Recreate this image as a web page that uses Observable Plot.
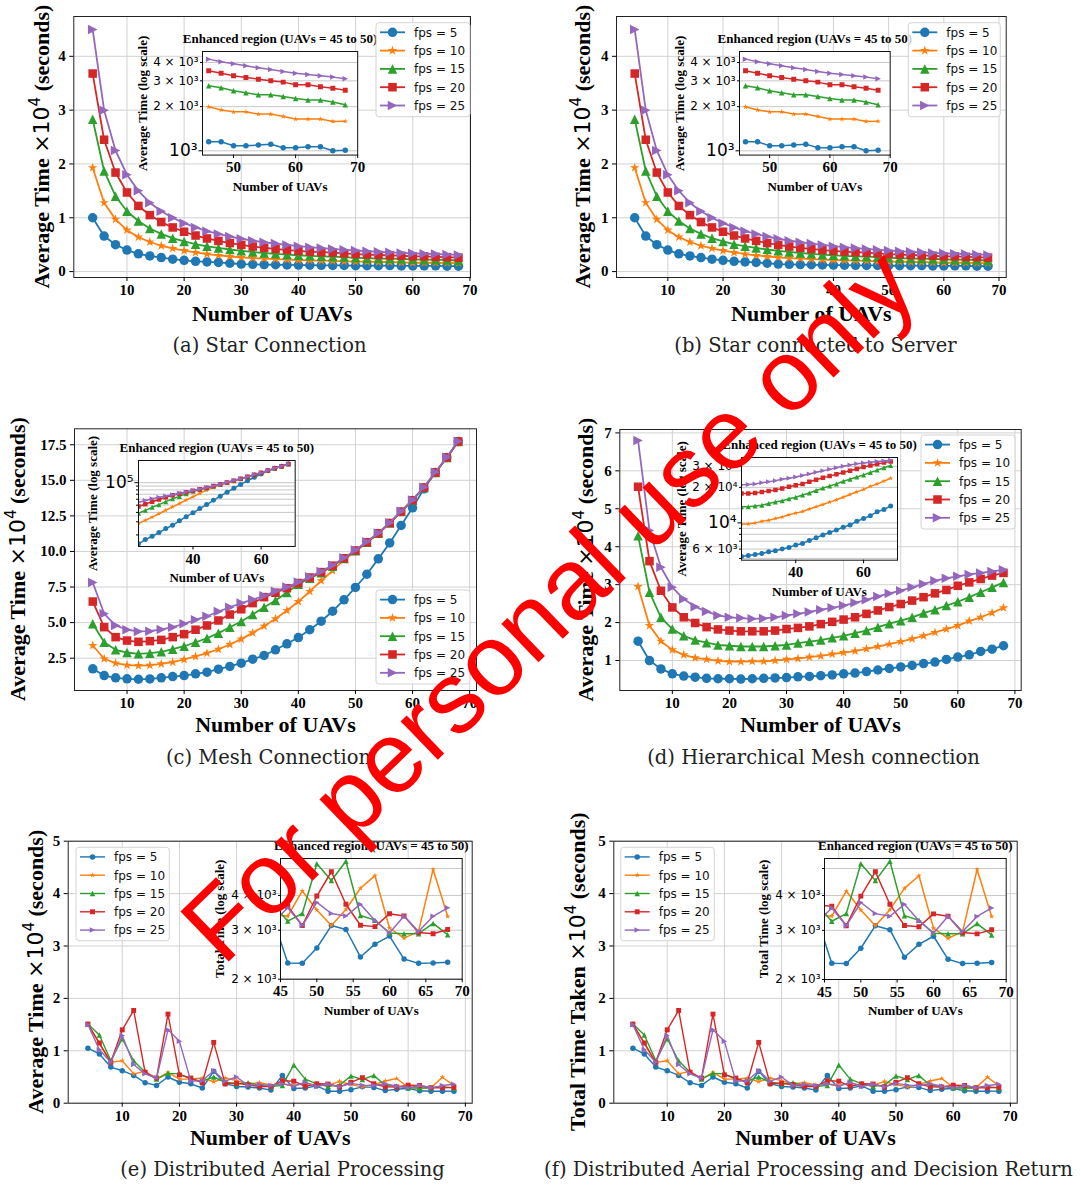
<!DOCTYPE html>
<html><head><meta charset="utf-8">
<script src="https://cdn.jsdelivr.net/npm/d3@7"></script>
<script src="https://cdn.jsdelivr.net/npm/@observablehq/plot@0.6"></script>
<style>
html,body{margin:0;padding:0;background:#fff;}
#page{position:relative;width:1081px;height:1185px;overflow:hidden;background:#fff;}
#page > .layer{position:absolute;}
#page svg{max-width:none;}
#page g[aria-label$="tick label"]{font-family:'Liberation Serif','Times New Roman',serif;font-weight:bold;}
</style></head><body><div id="page"></div>
<script>
// ---------------- data ----------------
const uavs = [4,6,8,10,12,14,16,18,20,22,24,26,28,30,32,34,36,38,40,42,44,46,48,50,52,54,56,58,60,62,64,66,68];
const fpsLabels = ["fps = 5","fps = 10","fps = 15","fps = 20","fps = 25"];
const colors = ["#1f77b4","#ff7f0e","#2ca02c","#d62728","#9467bd"];
const markers = ["circle","star","triangleUp","square","triangleRight"];
const xTicksMain = [10,20,30,40,50,60,70];

// (a),(b) Star connection  (×10^4 s)
const starT5  = [1.0,0.66,0.5,0.4,0.33,0.29,0.26,0.23,0.21,0.19,0.18,0.17,0.155,0.14,0.135,0.13,0.127,0.124,0.121,0.119,0.117,0.1152,0.1152,0.1082,0.1082,0.1095,0.111,0.1048,0.1048,0.1065,0.1065,0.1,0.101];
const starT10 = [1.93,1.28,0.97,0.77,0.64,0.55,0.48,0.43,0.39,0.355,0.325,0.3,0.28,0.265,0.25,0.24,0.23,0.222,0.215,0.208,0.203,0.1995,0.19,0.1844,0.1844,0.178,0.178,0.1715,0.1645,0.1645,0.1645,0.1585,0.159];
const starT15 = [2.83,1.87,1.4,1.12,0.94,0.8,0.7,0.62,0.56,0.51,0.47,0.44,0.41,0.385,0.365,0.345,0.33,0.315,0.303,0.292,0.284,0.2773,0.2687,0.2564,0.2485,0.2408,0.2408,0.2346,0.2273,0.2218,0.2218,0.215,0.2058];
const starT20 = [3.68,2.45,1.84,1.47,1.22,1.05,0.92,0.82,0.74,0.67,0.615,0.57,0.53,0.495,0.465,0.44,0.42,0.4,0.385,0.372,0.36,0.351,0.3384,0.3245,0.3162,0.308,0.3,0.294,0.282,0.282,0.273,0.2673,0.259];
const starT25 = [4.5,3.0,2.25,1.8,1.5,1.28,1.12,1.0,0.9,0.82,0.75,0.7,0.65,0.61,0.575,0.545,0.52,0.495,0.472,0.453,0.437,0.4218,0.4045,0.392,0.3796,0.3678,0.3584,0.3475,0.3384,0.331,0.3245,0.318,0.31];

// (c) Mesh connection
const meshT5  = [1.75,1.28,1.12,1.05,1.02,1.04,1.12,1.21,1.28,1.4,1.52,1.73,1.92,2.15,2.43,2.69,3.09,3.51,3.95,4.5,5.1,5.8,6.6,7.47,8.4,9.48,10.6,11.83,13.07,14.4,15.55,16.6,17.73];
const meshT10 = [3.39,2.46,2.15,2.01,1.98,2.0,2.1,2.22,2.41,2.62,2.85,3.13,3.46,3.84,4.28,4.75,5.27,5.85,6.48,7.19,7.94,8.64,9.42,10.0,10.62,11.25,12.0,12.8,13.6,14.5,15.55,16.6,17.73];
const meshT15 = [4.92,3.62,3.09,2.9,2.81,2.85,2.95,3.13,3.34,3.62,3.9,4.26,4.68,5.08,5.57,6.08,6.55,7.12,7.7,8.12,8.5,8.96,9.5,10.05,10.65,11.28,12.0,12.8,13.6,14.5,15.55,16.6,17.73];
const meshT20 = [6.48,4.68,3.98,3.74,3.65,3.7,3.79,3.98,4.19,4.5,4.8,5.15,5.57,5.94,6.37,6.79,7.1,7.42,7.78,8.17,8.55,9.0,9.52,10.07,10.65,11.28,12.0,12.8,13.6,14.5,15.55,16.6,17.73];
const meshT25 = [7.82,5.62,4.8,4.5,4.38,4.4,4.52,4.68,4.92,5.2,5.45,5.78,6.08,6.37,6.62,6.88,7.2,7.5,7.85,8.22,8.6,9.03,9.55,10.1,10.68,11.3,12.02,12.82,13.62,14.52,15.57,16.62,17.75];

// (d) Hierarchical mesh connection
const hierT5  = [1.51,1.0,0.78,0.65,0.59,0.56,0.53,0.52,0.52,0.51,0.52,0.53,0.54,0.55,0.57,0.58,0.6,0.62,0.65,0.67,0.71,0.75,0.79,0.83,0.87,0.92,0.96,1.03,1.09,1.15,1.24,1.3,1.39];
const hierT10 = [2.95,1.92,1.51,1.28,1.15,1.07,1.03,0.99,0.97,0.97,0.98,0.98,1.0,1.03,1.05,1.09,1.12,1.17,1.21,1.25,1.31,1.37,1.43,1.5,1.57,1.65,1.74,1.83,1.92,2.04,2.14,2.26,2.39];
const hierT15 = [4.29,2.8,2.14,1.83,1.65,1.54,1.47,1.41,1.39,1.37,1.37,1.37,1.39,1.41,1.46,1.5,1.54,1.6,1.65,1.72,1.79,1.88,1.97,2.05,2.14,2.25,2.34,2.45,2.55,2.67,2.8,2.93,3.06];
const hierT20 = [5.58,3.62,2.84,2.4,2.14,1.99,1.88,1.82,1.79,1.77,1.77,1.77,1.79,1.83,1.86,1.9,1.96,2.02,2.08,2.14,2.23,2.32,2.41,2.49,2.58,2.67,2.77,2.86,2.97,3.06,3.15,3.24,3.31];
const hierT25 = [6.8,4.43,3.46,2.93,2.62,2.42,2.29,2.19,2.14,2.12,2.1,2.11,2.14,2.19,2.23,2.28,2.34,2.39,2.45,2.52,2.6,2.69,2.77,2.84,2.93,3.02,3.1,3.17,3.22,3.27,3.31,3.35,3.39];

// (e),(f) Distributed aerial processing
const distT5  = [1.05,0.94,0.69,0.62,0.53,0.39,0.34,0.5,0.4,0.37,0.29,0.61,0.37,0.32,0.31,0.29,0.25,0.53,0.28,0.29,0.33,0.2286,0.228,0.2589,0.3118,0.3017,0.2404,0.2673,0.2858,0.2362,0.228,0.2285,0.23];
const distT10 = [1.51,1.13,0.78,0.81,0.56,0.61,0.46,0.59,0.46,0.46,0.48,0.41,0.48,0.43,0.37,0.39,0.35,0.37,0.34,0.38,0.34,0.3372,0.415,0.3548,0.3118,0.356,0.4244,0.471,0.3055,0.281,0.297,0.496,0.3365];
const distT15 = [1.51,1.3,0.81,1.23,0.81,0.59,0.46,0.57,0.56,0.46,0.42,0.5,0.4,0.37,0.39,0.34,0.32,0.34,0.73,0.46,0.37,0.3235,0.3445,0.52,0.4525,0.531,0.3388,0.326,0.293,0.2915,0.2915,0.3172,0.289];
const distT20 = [1.51,1.15,0.78,1.4,1.77,0.59,0.48,1.7,0.54,0.48,0.39,1.16,0.37,0.38,0.35,0.32,0.32,0.43,0.42,0.32,0.37,0.366,0.3118,0.398,0.4866,0.372,0.3125,0.309,0.3437,0.3372,0.2946,0.2915,0.3017];
const distT25 = [1.5,1.02,0.78,1.29,0.74,0.56,0.48,1.4,1.18,0.42,0.43,0.62,0.42,0.5,0.34,0.36,0.34,0.37,0.32,0.4,0.32,0.361,0.3118,0.3776,0.3445,0.3372,0.372,0.325,0.293,0.3372,0.297,0.3365,0.361];

const captions = ["(a) Star Connection","(b) Star connected to Server","(c) Mesh Connection","(d) Hierarchical Mesh connection","(e) Distributed Aerial Processing","(f) Distributed Aerial Processing and Decision Return"];
const insetTitle = "Enhanced region (UAVs = 45 to 50)";

// ---------------- helpers ----------------
const SERIF = "'Liberation Serif','Times New Roman',serif";
const SANS = "'DejaVu Sans',sans-serif";
function sym(kind){
  return {draw(ctx, size){
    const r = Math.sqrt(size/Math.PI);
    if (kind==="circle"){ ctx.moveTo(r,0); ctx.arc(0,0,r,0,2*Math.PI); }
    else if (kind==="square"){ ctx.rect(-r*0.9,-r*0.9,1.8*r,1.8*r); }
    else if (kind==="triangleUp"){ ctx.moveTo(0,-r); ctx.lineTo(r,r); ctx.lineTo(-r,r); ctx.closePath(); }
    else if (kind==="triangleRight"){ ctx.moveTo(r,0); ctx.lineTo(-r,r); ctx.lineTo(-r,-r); ctx.closePath(); }
    else if (kind==="star"){
      for (let i=0;i<10;i++){ const a=-Math.PI/2+i*Math.PI/5; const rr=(i%2)?r*0.4:r*1.05;
        const px=rr*Math.cos(a), py=rr*Math.sin(a); if(i) ctx.lineTo(px,py); else ctx.moveTo(px,py); }
      ctx.closePath();
    }
  }};
}
const page = document.getElementById("page");
function place(svg, x, y){ const d=document.createElement("div"); d.className="layer"; d.style.left=x+"px"; d.style.top=y+"px"; d.appendChild(svg); page.appendChild(d); }

function mainPanel(p){
  const [bx,by,bw,bh]=p.box, [fx0,fx1,fy0,fy1]=p.frame;
  const marks=[
    Plot.gridX(xTicksMain,{stroke:"#d2d2d2",strokeOpacity:1,strokeWidth:1}),
    Plot.gridY(p.yTicks,{stroke:"#d2d2d2",strokeOpacity:1,strokeWidth:1})
  ];
  p.series.forEach((arr,i)=>{
    const rows=uavs.map((x,j)=>({x,v:arr[j]}));
    marks.push(Plot.line(rows,{x:"x",y:"v",stroke:colors[i],strokeWidth:p.lw}));
    marks.push(Plot.dot(rows,{x:"x",y:"v",fill:colors[i],r:p.ms/2,symbol:sym(markers[i])}));
  });
  marks.push(Plot.frame({stroke:"#222",strokeWidth:1}));
  marks.push(Plot.axisX(xTicksMain,{tickSize:4,tickPadding:3,fontSize:15,fontWeight:"bold",fontFamily:SERIF,label:null,tickFormat:d=>String(d)}));
  marks.push(Plot.axisY(p.yTicks,{tickSize:4,tickPadding:4,fontSize:15,fontWeight:"bold",fontFamily:SERIF,label:null,tickFormat:p.yFmt}));
  marks.push(Plot.text(["Number of UAVs"],{frameAnchor:"bottom",dy:p.xlabY-fy1,lineAnchor:"bottom",text:d=>d,fontSize:22,fontWeight:"bold",fontFamily:SERIF}));
  const svg=Plot.plot({width:bw,height:bh,marginLeft:fx0-bx,marginRight:bx+bw-fx1,marginTop:fy0-by,marginBottom:by+bh-fy1,
    x:{domain:p.xd},y:{domain:p.yd},style:{background:"transparent",fontFamily:SERIF,overflow:"hidden"},marks});
  const t=d3.select(svg).append("text")
    .attr("transform",`translate(${p.ylabX-bx},${(fy0+fy1)/2-by}) rotate(-90)`)
    .attr("text-anchor","middle").attr("fill","black");
  t.append("tspan").attr("font-family",SERIF).attr("font-weight","bold").attr("font-size",22).text(p.ylab+" ");
  t.append("tspan").attr("font-family",SANS).attr("font-size",22).text("×10");
  t.append("tspan").attr("font-family",SANS).attr("font-size",15).attr("dy",-9).text("4");
  t.append("tspan").attr("font-family",SERIF).attr("font-weight","bold").attr("font-size",22).attr("dy",9).text(" (seconds)");
  place(svg,bx,by);
}

function insetPanel(ins, series){
  const [fx0,fx1,fy0,fy1]=ins.frame;
  const L=85,R=28,T=26,B=46;
  const bx=fx0-L, by=fy0-T, bw=fx1-fx0+L+R, bh=fy1-fy0+T+B;
  const majorVals=ins.major.map(d=>d[0]);
  const minorVals=[...ins.minorLab.map(d=>d[0]),...ins.minorNo];
  const marks=[Plot.frame({fill:"white",stroke:null}),Plot.gridY([...majorVals,...minorVals],{stroke:"#c8c8c8",strokeOpacity:1,strokeWidth:1})];
  series.forEach((arr,i)=>{
    const rows=uavs.map((x,j)=>({x,v:arr[j]*1e4})).filter(d=>d.x>=ins.from);
    marks.push(Plot.line(rows,{x:"x",y:"v",stroke:colors[i],strokeWidth:ins.lw,clip:true}));
    marks.push(Plot.dot(rows,{x:"x",y:"v",fill:colors[i],r:ins.ms/2,symbol:sym(markers[i]),clip:true}));
  });
  marks.push(Plot.frame({stroke:"#111",strokeWidth:1}));
  marks.push(Plot.axisX(ins.xTicks,{tickSize:3.5,tickPadding:3,fontSize:15,fontWeight:"bold",fontFamily:SERIF,label:null,tickFormat:d=>String(d)}));
  if (majorVals.length) marks.push(Plot.axisY(majorVals,{tickSize:3.5,label:null,tickFormat:()=>""}));
  if (minorVals.length) marks.push(Plot.axisY(minorVals,{tickSize:2,label:null,tickFormat:()=>""}));
  if (ins.major.length) marks.push(Plot.text(ins.major,{y:d=>d[0],text:d=>d[1],frameAnchor:"left",textAnchor:"end",dx:-5,fontSize:17,fontFamily:SANS,lineAnchor:"middle"}));
  if (ins.minorLab.length) marks.push(Plot.text(ins.minorLab,{y:d=>d[0],text:d=>d[1],frameAnchor:"left",textAnchor:"end",dx:-4,fontSize:12,fontFamily:SANS,lineAnchor:"middle"}));
  marks.push(Plot.text([insetTitle],{frameAnchor:"top",dy:-8,lineAnchor:"bottom",text:d=>d,fontSize:13,fontWeight:"bold",fontFamily:SERIF}));
  marks.push(Plot.text(["Number of UAVs"],{frameAnchor:"bottom",dy:36,lineAnchor:"bottom",text:d=>d,fontSize:13,fontWeight:"bold",fontFamily:SERIF}));
  marks.push(Plot.text([ins.ylab],{frameAnchor:"left",dx:-ins.ylabOff,rotate:-90,textAnchor:"middle",lineAnchor:"bottom",text:d=>d,fontSize:13,fontWeight:"bold",fontFamily:SERIF}));
  const svg=Plot.plot({width:bw,height:bh,marginLeft:L,marginRight:R,marginTop:T,marginBottom:B,
    x:{domain:ins.xd},y:{type:"log",domain:ins.yd},style:{background:"transparent",fontFamily:SERIF,overflow:"visible"},marks});
  place(svg,bx,by);
}

// ---------------- panels ----------------
const starIns = (frame)=>({frame,xd:[45,70],yd:[935,4755],xTicks:[50,60,70],major:[[1000,"10³"]],
  minorLab:[[2000,"2 × 10³"],[3000,"3 × 10³"],[4000,"4 × 10³"]],minorNo:[],from:46,ylab:"Average Time (log scale)",ylabOff:56,ms:5.5,lw:1.5});
const panels=[
 {box:[0,0,540,330],frame:[73.3,470,16,277],xd:[0.7,70.1],yd:[-0.11,4.74],yTicks:[0,1,2,3,4],yFmt:d=>String(d),
  series:[starT5,starT10,starT15,starT20,starT25],ms:9.5,lw:1.8,ylab:"Average Time",ylabX:49,xlabY:320,
  legend:[376,22.7,94,94],legMs:9.5,legLw:1.8,inset:starIns([201.5,356.7,50.7,154.3])},
 {box:[540,0,541,330],frame:[616,1005.7,16,277],xd:[0.7,71.3],yd:[-0.11,4.74],yTicks:[0,1,2,3,4],yFmt:d=>String(d),
  series:[starT5,starT10,starT15,starT20,starT25],ms:9.5,lw:1.8,ylab:"Average Time",ylabX:590,xlabY:320,
  legend:[908.3,22.7,92,94],legMs:9.5,legLw:1.8,inset:starIns([739.3,890,50.7,154.3])},
 {box:[0,400,540,345],frame:[74,476,428.3,690],xd:[0.8,71.2],yd:[0.23,18.62],yTicks:[2.5,5,7.5,10,12.5,15,17.5],yFmt:d3.format(".1f"),
  series:[meshT5,meshT10,meshT15,meshT20,meshT25],ms:9.5,lw:1.8,ylab:"Average Time",ylabX:25,xlabY:731,
  legend:[376,590,94,94],legMs:9.5,legLw:1.8,
  inset:{frame:[138.3,295,460,546],xd:[24,70],yd:[14000,198000],xTicks:[40,60],major:[[100000,"10⁵"]],minorLab:[],
   minorNo:[20000,30000,40000,50000,60000,70000,80000,90000],from:22,ylab:"Average Time (log scale)",ylabOff:42,ms:5,lw:1.5}},
 {box:[540,400,541,345],frame:[619.3,1020.7,429,690],xd:[0.8,71.1],yd:[0.21,7.09],yTicks:[1,2,3,4,5,6,7],yFmt:d=>String(d),
  series:[hierT5,hierT10,hierT15,hierT20,hierT25],ms:9.5,lw:1.8,ylab:"Average Time",ylabX:593,xlabY:731,
  legend:[921,435,94,94],legMs:9.5,legLw:1.8,
  inset:{frame:[740.7,896.7,457.3,560],xd:[24,70],yd:[4830,35800],xTicks:[40,60],major:[[10000,"10⁴"]],
   minorLab:[[6000,"6 × 10³"],[20000,"2 × 10⁴"],[30000,"3 × 10⁴"]],minorNo:[5000,7000,8000,9000],from:22,ylab:"Average Time (log scale)",ylabOff:56,ms:5,lw:1.5}},
 {box:[0,798,540,362],frame:[67.7,471.7,840.7,1102.7],xd:[0.55,71.2],yd:[0,5],yTicks:[0,1,2,3,4,5],yFmt:d=>String(d),
  series:[distT5,distT10,distT15,distT20,distT25],ms:5.5,lw:1.4,ylab:"Average Time",ylabX:43,xlabY:1144,
  legend:[76,847.3,93.3,93.4],legMs:5.5,legLw:1.4,
  inset:{frame:[280,461.7,858.3,979],xd:[45,70],yd:[2000,5430],xTicks:[45,50,55,60,65,70],major:[],
   minorLab:[[2000,"2 × 10³"],[3000,"3 × 10³"],[4000,"4 × 10³"]],minorNo:[5000],from:44,ylab:"Total Time (log scale)",ylabOff:57,ms:5.5,lw:1.5}},
 {box:[540,798,541,362],frame:[613.3,1016.7,840.7,1102.7],xd:[0.66,71.2],yd:[0,5],yTicks:[0,1,2,3,4,5],yFmt:d=>String(d),
  series:[distT5,distT10,distT15,distT20,distT25],ms:5.5,lw:1.4,ylab:"Total Time Taken",ylabX:585,xlabY:1144,
  legend:[620.7,847.3,93.6,93.4],legMs:5.5,legLw:1.4,
  inset:{frame:[824.3,1006,858.3,979.3],xd:[45,70],yd:[2000,5430],xTicks:[45,50,55,60,65,70],major:[],
   minorLab:[[2000,"2 × 10³"],[3000,"3 × 10³"],[4000,"4 × 10³"]],minorNo:[5000],from:44,ylab:"Total Time (log scale)",ylabOff:57,ms:5.5,lw:1.5}}
];

panels.forEach(p=>{ mainPanel(p); insetPanel(p.inset,p.series); });

// ---------------- overlay: legends, captions, watermark ----------------
const ov=d3.create("svg").attr("width",1081).attr("height",1185).attr("style","display:block;overflow:visible");
panels.forEach(p=>{
  const [x,y,w,h]=p.legend; const g=ov.append("g");
  g.append("rect").attr("x",x).attr("y",y).attr("width",w).attr("height",h).attr("rx",3)
    .attr("fill","white").attr("fill-opacity",0.8).attr("stroke","#d4d4d4");
  fpsLabels.forEach((lab,i)=>{
    const cy=y+9.6+i*18.3;
    g.append("line").attr("x1",x+4).attr("x2",x+29).attr("y1",cy).attr("y2",cy).attr("stroke",colors[i]).attr("stroke-width",p.legLw);
    g.append("path").attr("d",d3.symbol(sym(markers[i]),Math.PI*(p.legMs/2)**2)()).attr("transform",`translate(${x+16.5},${cy})`).attr("fill",colors[i]);
    g.append("text").attr("x",x+38).attr("y",cy+4.3).attr("font-family",SANS).attr("font-size",12).attr("fill","#111").text(lab);
  });
});
const capPos=[[269.5,352],[815.5,352],[268.5,764],[813.5,764],[282.5,1176],[808.5,1176]];
captions.forEach((c,i)=>{
  ov.append("text").attr("x",capPos[i][0]).attr("y",capPos[i][1]).attr("text-anchor","middle")
    .attr("font-family","'DejaVu Serif',serif").attr("font-size",19.5).attr("fill","#222").text(c);
});
ov.append("text").attr("transform","translate(572,630) rotate(-44)").attr("text-anchor","middle")
  .attr("font-family","'Liberation Sans',Arial,sans-serif").attr("font-size",101).attr("fill","#ff0000").text("For personal use only");
place(ov.node(),0,0);
</script></body></html>
